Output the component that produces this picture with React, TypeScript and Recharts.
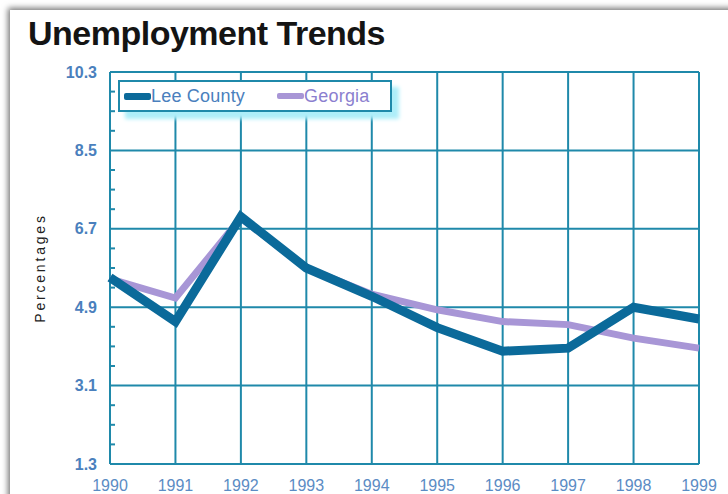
import { CartesianGrid, Legend, Line, LineChart, XAxis, YAxis } from "recharts";

const years = ["1990", "1991", "1992", "1993", "1994", "1995", "1996", "1997", "1998", "1999"];
const leeCounty = [5.58, 4.57, 6.98, 5.8, 5.15, 4.43, 3.89, 3.96, 4.9, 4.63];
const georgia = [5.55, 5.11, 6.95, 5.8, 5.2, 4.84, 4.57, 4.5, 4.19, 3.96];

const majorTicks = [1.3, 3.1, 4.9, 6.7, 8.5, 10.3];
const allTicks = [
  1.3, 1.75, 2.2, 2.65, 3.1, 3.55, 4, 4.45, 4.9, 5.35, 5.8, 6.25, 6.7, 7.15, 7.6, 8.05, 8.5,
  8.95, 9.4, 9.85, 10.3,
];

const data = years.map((year, i) => ({ year, lee: leeCounty[i], georgia: georgia[i] }));

const FONT = "'Liberation Sans', Arial, sans-serif";
const LEE = "#0b6a9a";
const GEORGIA = "#a896d6";
const GRID = "#1f89aa";

function YTick({ x, y, payload }: any) {
  const v = payload?.value;
  if (majorTicks.includes(v)) {
    return (
      <text x={x} y={y} dy="0.355em" textAnchor="end" fontSize={16} fontWeight={700} fill="#4a80bd" fontFamily={FONT}>
        {Number(v).toFixed(1)}
      </text>
    );
  }
  // small inner tick marks between the gridlines
  return <line x1={x + 13} x2={x + 18} y1={y} y2={y} stroke={GRID} strokeWidth={2} />;
}

function LegendBox() {
  const item = (color: string, label: string, textColor: string, thick: number) => (
    <div style={{ display: "flex", alignItems: "center" }}>
      <div style={{ width: 27, height: thick, background: color, borderRadius: 2 }} />
      <span style={{ color: textColor, fontSize: 18, fontFamily: FONT, letterSpacing: 0.2 }}>{label}</span>
    </div>
  );
  return (
    <div
      style={{
        display: "flex",
        alignItems: "center",
        gap: 32,
        height: 28,
        padding: "0 20px 0 4px",
        background: "#fff",
        border: `2px solid ${GRID}`,
        boxShadow: "7px 7px 4px #aeeef9",
      }}
    >
      {item(LEE, "Lee County", "#4a80bd", 7)}
      {item(GEORGIA, "Georgia", "#8b7fcf", 6)}
    </div>
  );
}

export default function App() {
  return (
    <div style={{ position: "absolute", left: 0, top: 0, width: 728, height: 494, background: "#fff", overflow: "hidden" }}>
      <div
        style={{
          position: "absolute",
          left: 10,
          top: 10,
          width: 740,
          height: 500,
          boxShadow: "-2px -2px 6px rgba(0,0,0,0.55)",
        }}
      />
      <div
        style={{
          position: "absolute",
          left: 28,
          top: 16,
          fontFamily: FONT,
          fontWeight: 700,
          fontSize: 34,
          lineHeight: "34px",
          letterSpacing: -0.5,
          color: "#141414",
        }}
      >
        Unemployment Trends
      </div>
      <div style={{ position: "absolute", left: 0, top: 0 }}>
        <LineChart width={728} height={494} data={data} margin={{ top: 72, right: 29, bottom: 0, left: 0 }}>
          <CartesianGrid stroke={GRID} strokeWidth={2} horizontalValues={majorTicks} />
          <XAxis
            dataKey="year"
            height={30}
            axisLine={false}
            tickLine={false}
            tickSize={0}
            tickMargin={16}
            interval={0}
            tick={{ fontSize: 16, fill: "#5b8cc4", fontFamily: FONT }}
          />
          <YAxis
            width={110}
            domain={[1.3, 10.3]}
            ticks={allTicks}
            interval={0}
            axisLine={false}
            tickLine={false}
            tickSize={0}
            tickMargin={13}
            tick={<YTick />}
            label={{
              value: "Percentages",
              angle: -90,
              position: "center",
              dx: -15,
              style: { fontSize: 14, fill: "#222", fontFamily: FONT, letterSpacing: 2.8 },
            }}
          />
          <Legend
            layout="horizontal"
            verticalAlign="middle"
            align="center"
            content={() => <LegendBox />}
            wrapperStyle={{ left: 118, top: 80, width: "auto", height: "auto" }}
          />
          <Line type="linear" dataKey="georgia" name="Georgia" stroke={GEORGIA} strokeWidth={7} dot={false} isAnimationActive={false} />
          <Line type="linear" dataKey="lee" name="Lee County" stroke={LEE} strokeWidth={9} dot={false} isAnimationActive={false} />
        </LineChart>
      </div>
    </div>
  );
}
